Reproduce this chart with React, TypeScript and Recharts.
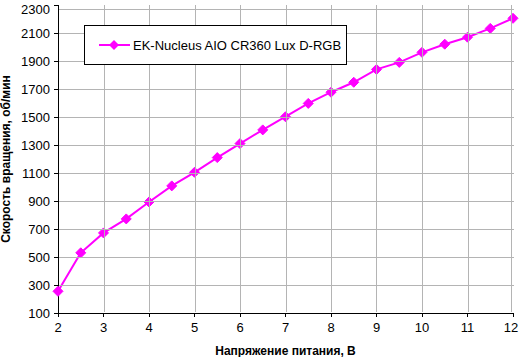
import { Label, Line, LineChart, XAxis, YAxis } from "recharts";

const voltages = [2, 2.5, 3, 3.5, 4, 4.5, 5, 5.5, 6, 6.5, 7, 7.5, 8, 8.5, 9, 9.5, 10, 10.5, 11, 11.5, 12];
const speeds = [255, 530, 672, 772, 893, 1008, 1105, 1210, 1310, 1408, 1502, 1597, 1677, 1748, 1840, 1890, 1962, 2020, 2070, 2133, 2205];
const xTicks = [2, 3, 4, 5, 6, 7, 8, 9, 10, 11, 12];
const yTicks = [100, 300, 500, 700, 900, 1100, 1300, 1500, 1700, 1900, 2100, 2300];
const seriesName = "EK-Nucleus AIO CR360 Lux D-RGB";

const data = voltages.map((v, i) => ({ v, rpm: speeds[i] }));

const MAGENTA = "#ff00ff";
const GRID = "#b4b4b4";
const FONT = "'Liberation Sans', Arial, sans-serif";

const W = 519;
const H = 357;
const M = { top: 5, right: 6, left: 0, bottom: 0 };
const Y_W = 58;
const X_H = 44;
const PLOT_L = M.left + Y_W;
const PLOT_R = W - M.right;
const PLOT_T = M.top;
const PLOT_B = H - M.bottom - X_H;

const crispCss = `
.recharts-cartesian-axis line { shape-rendering: crispEdges; }
`;

// snap to the middle of a pixel so 1px lines stay sharp
const px = (v: number) => Math.round(v) + 0.5;

function Diamond(props: any) {
  const { cx, cy } = props;
  if (cx == null || cy == null) return null;
  const r = 5;
  return (
    <polygon
      points={`${cx},${cy - r} ${cx + r},${cy} ${cx},${cy + r} ${cx - r},${cy}`}
      fill={MAGENTA}
      stroke={MAGENTA}
    />
  );
}

// tick label + horizontal grid line at the tick position
function YTick(props: any) {
  const { x, y, payload } = props;
  return (
    <g>
      {payload.value !== yTicks[0] && (
        <line
          x1={PLOT_L + 1}
          x2={PLOT_R + 1}
          y1={px(y)}
          y2={px(y)}
          stroke={GRID}
          strokeWidth={1}
          shapeRendering="crispEdges"
        />
      )}
      <text x={x} y={y} dy="0.36em" textAnchor="end" fontSize={13} fill="#000" fontFamily={FONT}>
        {payload.value}
      </text>
    </g>
  );
}

function XTick(props: any) {
  const { x, y, payload } = props;
  return (
    <g>
      {payload.value !== xTicks[0] && (
        <line
          x1={px(x)}
          x2={px(x)}
          y1={PLOT_T}
          y2={PLOT_B - 1}
          stroke={GRID}
          strokeWidth={1}
          shapeRendering="crispEdges"
        />
      )}
      <text x={x} y={y} dy="0.75em" textAnchor="middle" fontSize={13} fill="#000" fontFamily={FONT}>
        {payload.value}
      </text>
    </g>
  );
}

function LegendBox() {
  return (
    <div
      style={{
        position: "absolute",
        left: 84,
        top: 25,
        width: 261,
        height: 38,
        border: "1px solid #000",
        background: "#fff",
        display: "flex",
        alignItems: "center",
        fontFamily: FONT,
        fontSize: 13,
      }}
    >
      <svg width={34} height={12} style={{ marginLeft: 13 }}>
        <line x1={1} y1={6} x2={32} y2={6} stroke={MAGENTA} strokeWidth={2} />
        <polygon points="16,1 21,6 16,11 11,6" fill={MAGENTA} />
      </svg>
      <span style={{ marginLeft: 1 }}>{seriesName}</span>
    </div>
  );
}

export default function App() {
  return (
    <div style={{ position: "absolute", left: 0, top: 0, width: W, height: H, background: "#fff" }}>
      <style>{crispCss}</style>
      <LineChart width={W} height={H} data={data} margin={M}>
        <XAxis
          dataKey="v"
          type="number"
          domain={[2, 12]}
          ticks={xTicks}
          height={X_H}
          stroke="#000"
          tickSize={4}
          tickMargin={5}
          tick={<XTick />}
        >
          <Label
            value="Напряжение питания, В"
            position="insideBottom"
            offset={2}
            style={{ fontSize: 12, fontWeight: "bold", fill: "#000", fontFamily: FONT }}
          />
        </XAxis>
        <YAxis
          type="number"
          domain={[100, 2300]}
          ticks={yTicks}
          width={Y_W}
          stroke="#000"
          tickSize={4}
          tickMargin={4}
          tick={<YTick />}
        >
          <Label
            value="Скорость вращения, об/мин"
            angle={-90}
            position="insideLeft"
            offset={6}
            style={{ fontSize: 12, fontWeight: "bold", fill: "#000", fontFamily: FONT, textAnchor: "middle" }}
          />
        </YAxis>
        <Line
          type="linear"
          dataKey="rpm"
          name={seriesName}
          stroke={MAGENTA}
          strokeWidth={2}
          dot={<Diamond />}
          activeDot={false}
          isAnimationActive={false}
        />
      </LineChart>
      <LegendBox />
    </div>
  );
}
